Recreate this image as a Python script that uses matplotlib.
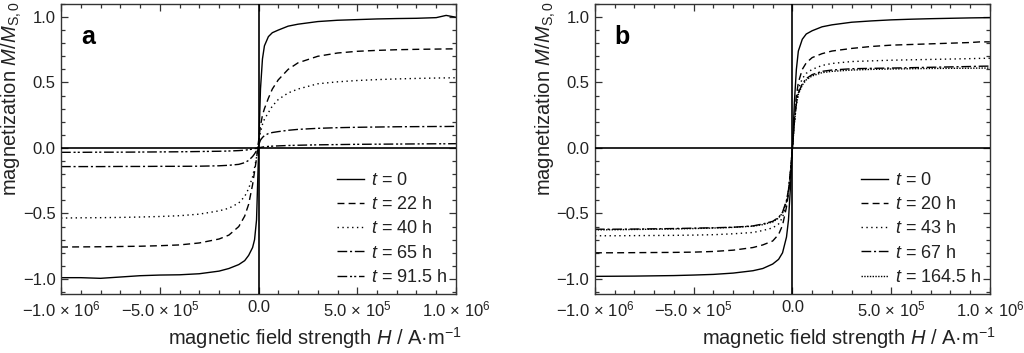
import numpy as np
import matplotlib.pyplot as plt
from matplotlib.ticker import MultipleLocator, FuncFormatter

plt.rcParams['font.family'] = ['Liberation Sans', 'DejaVu Sans']
plt.rcParams['mathtext.fontset'] = 'custom'
plt.rcParams['mathtext.rm'] = 'Liberation Sans'
plt.rcParams['mathtext.it'] = 'Liberation Sans:italic'

# Feldstaerke H (A/m), gemeinsam fuer beide Panels
H = [-1e6, -9e5, -8e5, -7e5, -6e5, -5e5, -4e5, -3e5, -2e5, -1.5e5, -1e5, -7e4, -5e4,
     -3e4, -2e4, -1e4, 0, 1e4, 2e4, 3e4, 5e4, 7e4, 1e5, 1.5e5, 2e5, 3e5, 4e5, 5e5,
     6e5, 7e5, 8e5, 9e5, 9.5e5, 1e6]

# Panel a
labels_a = ['0', '22 h', '40 h', '65 h', '91.5 h']
m_a_0 = [-0.99, -0.99, -0.995, -0.985, -0.975, -0.97, -0.968, -0.96, -0.94, -0.92, -0.89,
         -0.86, -0.82, -0.76, -0.70, -0.55, -0.05, 0.45, 0.68, 0.78, 0.85, 0.88, 0.90,
         0.93, 0.945, 0.965, 0.975, 0.98, 0.985, 0.988, 0.99, 0.995, 1.012, 0.998]
m_a_22 = [-0.756, -0.755, -0.754, -0.752, -0.75, -0.746, -0.74, -0.725, -0.695, -0.665,
          -0.60, -0.52, -0.43, -0.28, -0.18, -0.08, 0.05, 0.17, 0.25, 0.30, 0.38, 0.45,
          0.52, 0.60, 0.65, 0.70, 0.725, 0.738, 0.745, 0.75, 0.753, 0.755, 0.756, 0.757]
m_a_40 = [-0.535, -0.533, -0.532, -0.53, -0.527, -0.523, -0.517, -0.505, -0.48, -0.46,
          -0.42, -0.37, -0.31, -0.22, -0.15, -0.07, 0.03, 0.12, 0.18, 0.22, 0.27, 0.32,
          0.37, 0.42, 0.45, 0.49, 0.505, 0.515, 0.522, 0.527, 0.531, 0.534, 0.535, 0.536]
m_a_65 = [-0.142, -0.142, -0.142, -0.141, -0.141, -0.14, -0.14, -0.139, -0.136, -0.132,
          -0.125, -0.112, -0.095, -0.065, -0.045, -0.02, 0.02, 0.06, 0.08, 0.095, 0.11,
          0.118, 0.125, 0.135, 0.142, 0.15, 0.155, 0.158, 0.16, 0.162, 0.163, 0.164,
          0.164, 0.165]
m_a_915 = [-0.033, -0.033, -0.032, -0.032, -0.031, -0.03, -0.029, -0.027, -0.025, -0.023,
           -0.02, -0.017, -0.013, -0.008, -0.005, -0.002, 0.0, 0.004, 0.007, 0.009, 0.012,
           0.014, 0.016, 0.019, 0.021, 0.024, 0.026, 0.028, 0.029, 0.03, 0.031, 0.032,
           0.032, 0.033]

# Panel b
labels_b = ['0', '20 h', '43 h', '67 h', '164.5 h']
m_b_0 = [-0.98, -0.979, -0.978, -0.976, -0.974, -0.97, -0.965, -0.955, -0.937, -0.92,
         -0.886, -0.85, -0.80, -0.68, -0.55, -0.30, 0.0, 0.35, 0.60, 0.74, 0.83, 0.87,
         0.895, 0.925, 0.94, 0.96, 0.97, 0.978, 0.983, 0.987, 0.99, 0.993, 0.994, 0.995]
m_b_20 = [-0.80, -0.80, -0.799, -0.798, -0.797, -0.795, -0.79, -0.78, -0.76, -0.74, -0.71,
          -0.66, -0.59, -0.45, -0.35, -0.20, 0.0, 0.22, 0.40, 0.50, 0.60, 0.65, 0.69,
          0.72, 0.74, 0.76, 0.775, 0.785, 0.79, 0.795, 0.80, 0.805, 0.81, 0.81]
m_b_43 = [-0.67, -0.67, -0.669, -0.668, -0.667, -0.665, -0.662, -0.655, -0.645, -0.63,
          -0.61, -0.58, -0.53, -0.42, -0.33, -0.18, 0.0, 0.20, 0.36, 0.45, 0.53, 0.57,
          0.60, 0.63, 0.645, 0.66, 0.665, 0.67, 0.673, 0.676, 0.679, 0.682, 0.684, 0.685]
m_b_67 = [-0.62, -0.62, -0.619, -0.617, -0.615, -0.612, -0.609, -0.605, -0.595, -0.58,
          -0.56, -0.53, -0.49, -0.40, -0.32, -0.18, 0.0, 0.20, 0.34, 0.42, 0.49, 0.53,
          0.56, 0.585, 0.595, 0.605, 0.608, 0.61, 0.613, 0.616, 0.619, 0.622, 0.624, 0.625]
m_b_1645 = [-0.625, -0.624, -0.622, -0.62, -0.618, -0.615, -0.611, -0.606, -0.597, -0.585,
            -0.565, -0.535, -0.495, -0.41, -0.33, -0.19, 0.0, 0.19, 0.33, 0.41, 0.48,
            0.52, 0.55, 0.575, 0.585, 0.595, 0.6, 0.603, 0.605, 0.607, 0.608, 0.609,
            0.61, 0.61]

styles_a = ['-', (0, (5, 3)), (0, (1, 2.5)), (0, (7, 2, 1.5, 2)), (0, (7, 2, 1.5, 1.5, 1.5, 2))]
styles_b = ['-', (0, (5, 3)), (0, (1, 2.5)), (0, (7, 2, 1.5, 2)), (0, (1, 1))]

FS_TICK = 12
FS_LAB = 14.5
FS_LEG = 13
TXT = '#222222'


def fmt_field(v, pos):
    """ Tick-Beschriftung im Stil 1.0 x 10^6 """
    if abs(v) < 1:
        return '0.0'
    e = int(np.floor(np.log10(abs(v))))
    m = v / 10 ** e
    s = f'{m:.1f}'.replace('-', '\u2212')
    return s + ' \u00d7 10$^{' + str(e) + '}$'


def draw_panel(ax, curves, labels, styles, letter):
    for m, lab, ls in zip(curves, labels, styles):
        ax.plot(H, m, color='black', lw=1.0, ls=ls, label='$t$ = ' + lab)
    ax.axhline(0, color='black', lw=1.2, zorder=3)
    ax.axvline(0, color='black', lw=1.2, zorder=3)
    ax.set_xlim(-1e6, 1e6)
    ax.set_ylim(-1.115, 1.1)
    ax.xaxis.set_major_locator(MultipleLocator(5e5))
    ax.xaxis.set_minor_locator(MultipleLocator(1e5))
    ax.yaxis.set_major_locator(MultipleLocator(0.5))
    ax.yaxis.set_minor_locator(MultipleLocator(0.1))
    ax.xaxis.set_major_formatter(FuncFormatter(fmt_field))
    ax.yaxis.set_major_formatter(FuncFormatter(lambda v, p: f'{v:.1f}'.replace('-', '\u2212')))
    ax.tick_params(which='both', top=True, right=True, direction='in',
                   colors='#333333', labelcolor=TXT, labelsize=FS_TICK, width=0.9)
    ax.tick_params(axis='y', which='both', left=True, direction='out')
    ax.tick_params(axis='y', which='both', right=True, direction='in')
    ax.tick_params(which='major', length=5, pad=4)
    ax.tick_params(which='minor', length=3)
    for sp in ax.spines.values():
        sp.set_color('#333333')
        sp.set_linewidth(1.0)
    ax.set_xlabel('magnetic field strength $H$ / A\u00b7m$^{\u22121}$', fontsize=FS_LAB,
                  color=TXT, loc='right')
    ax.xaxis.label.set_va('baseline')
    ax.xaxis.set_label_coords(1.015, -0.175)
    ax.set_ylabel('magnetization $M$/$M_{\\mathrm{S,0}}$', fontsize=FS_LAB, color=TXT,
                  loc='top')
    ax.yaxis.set_label_coords(-0.094, 1.008)
    ax.text(0.05, 0.885, letter, transform=ax.transAxes, fontsize=18, fontweight='bold',
            va='center', ha='left')
    ax.legend(loc='lower right', frameon=False, fontsize=FS_LEG, handlelength=1.5,
              handletextpad=0.4, labelspacing=0.4, borderaxespad=0.25,
              borderpad=0.2, labelcolor=TXT)


fig = plt.figure(figsize=(10.24, 3.53), dpi=100)
ax_a = fig.add_axes([0.0596, 0.167, 0.3857, 0.822])
ax_b = fig.add_axes([0.581, 0.167, 0.3857, 0.822])

draw_panel(ax_a, [m_a_0, m_a_22, m_a_40, m_a_65, m_a_915], labels_a, styles_a, 'a')
draw_panel(ax_b, [m_b_0, m_b_20, m_b_43, m_b_67, m_b_1645], labels_b, styles_b, 'b')

fig.savefig('out.png', dpi=100)
